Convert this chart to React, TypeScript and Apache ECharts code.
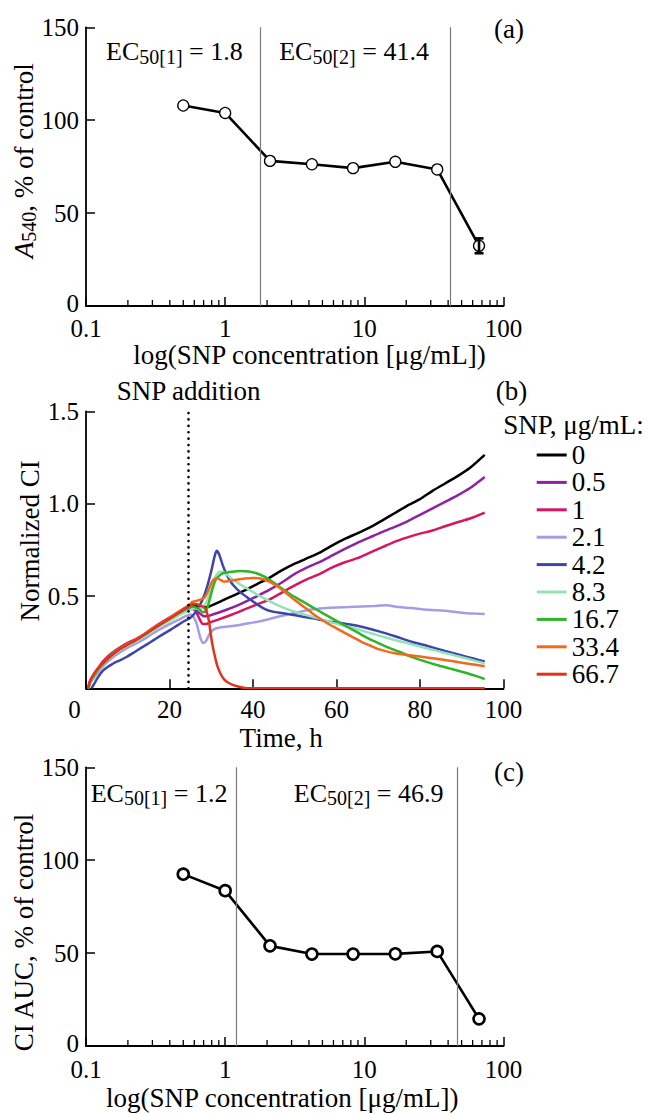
import React, { useEffect, useRef } from 'react';
import * as echarts from 'echarts';

const FONT = '"Liberation Serif", "Times New Roman", serif';

// Panels (a) and (c): concentration series
const CONC = [0.5, 1, 2.1, 4.2, 8.3, 16.7, 33.4, 66.7];
const A540 = [107.9, 103.9, 78.1, 76.3, 74.2, 77.6, 73.5, 32.4];
const A540_ERR = [0, 0, 0, 0, 0, 0, 0, 4];
const CI_AUC = [92.5, 83.6, 53.9, 49.5, 49.5, 49.6, 50.9, 14.6];
const EC50_A = [1.8, 41.4];
const EC50_C = [1.2, 46.9];
const LOG_MAJOR = [0.1, 100];
const LOG_MINOR = [0.2, 0.3, 0.4, 0.5, 0.6, 0.7, 0.8, 0.9, 2, 3, 4, 5, 6, 7, 8, 9, 20, 30, 40, 50, 60, 70, 80, 90];
const PCT_TICKS = [0, 150, 50];

// Panel (b): normalized cell index over time
const SNP_ADDITION_T = 24.5;
const TIME_TICKS = [0, 100, 20];
const CI_TICKS = [0, 1.5, 0.5];
const CI_NAMES = ['0', '0.5', '1', '2.1', '4.2', '8.3', '16.7', '33.4', '66.7'];
const CI_COLORS = ['#000000', '#8e22a3', '#d7165f', '#a49de3', '#3c46aa', '#93e3b6', '#2fb52a', '#f2691c', '#e3321c'];

const CI_0 = [[0.5, 0], [1, 0.03], [2, 0.07], [3, 0.105], [4, 0.135], [5, 0.158], [6, 0.178], [7, 0.196], [8, 0.21], [10, 0.237], [12, 0.26], [14, 0.29], [16, 0.32], [18, 0.35], [20, 0.375], [22, 0.405], [24, 0.43], [25, 0.443], [26, 0.448], [27, 0.445], [28, 0.44], [29, 0.44], [30, 0.448], [32, 0.468], [35, 0.5], [38, 0.53], [41, 0.565], [44, 0.6], [47, 0.64], [50, 0.675], [53, 0.705], [56, 0.735], [59, 0.775], [62, 0.81], [65, 0.84], [68, 0.872], [71, 0.91], [74, 0.95], [77, 0.99], [80, 1.025], [83, 1.07], [86, 1.11], [89, 1.15], [92, 1.195], [95.5, 1.265]];
const CI_05 = [[0.5, 0], [1, 0.032], [2, 0.07], [3, 0.103], [4, 0.133], [5, 0.157], [6, 0.177], [7, 0.195], [8, 0.21], [10, 0.236], [12, 0.258], [14, 0.287], [16, 0.318], [18, 0.347], [20, 0.372], [22, 0.4], [24, 0.425], [25, 0.432], [26, 0.425], [27, 0.41], [28, 0.393], [29, 0.39], [30, 0.397], [32, 0.412], [35, 0.437], [38, 0.467], [41, 0.5], [44, 0.535], [47, 0.575], [50, 0.62], [53, 0.655], [56, 0.685], [59, 0.72], [62, 0.755], [65, 0.788], [68, 0.818], [71, 0.848], [74, 0.875], [77, 0.905], [80, 0.94], [83, 0.975], [86, 1.01], [89, 1.045], [92, 1.085], [95.5, 1.145]];
const CI_1 = [[0.5, 0], [1, 0.04], [2, 0.08], [3, 0.113], [4, 0.143], [5, 0.167], [6, 0.187], [7, 0.205], [8, 0.22], [10, 0.246], [12, 0.268], [14, 0.294], [16, 0.326], [18, 0.356], [20, 0.383], [22, 0.412], [24, 0.438], [25, 0.445], [26, 0.432], [27, 0.385], [28, 0.348], [29, 0.35], [30, 0.36], [32, 0.375], [35, 0.4], [38, 0.428], [41, 0.455], [44, 0.482], [47, 0.52], [50, 0.558], [53, 0.592], [56, 0.62], [59, 0.655], [62, 0.683], [65, 0.705], [68, 0.735], [71, 0.765], [74, 0.795], [77, 0.818], [80, 0.838], [83, 0.855], [86, 0.878], [89, 0.9], [92, 0.92], [95.5, 0.952]];
const CI_21 = [[0.5, 0], [1, 0.028], [2, 0.06], [3, 0.09], [4, 0.117], [5, 0.14], [6, 0.16], [7, 0.178], [8, 0.193], [10, 0.22], [12, 0.243], [14, 0.268], [16, 0.297], [18, 0.323], [20, 0.348], [22, 0.37], [24, 0.392], [25, 0.4], [25.7, 0.39], [26.5, 0.35], [27.3, 0.28], [28, 0.245], [28.7, 0.255], [29.5, 0.29], [30.5, 0.318], [32, 0.33], [34, 0.335], [36, 0.34], [39, 0.352], [42, 0.365], [45, 0.382], [48, 0.398], [51, 0.413], [54, 0.427], [57, 0.434], [60, 0.438], [63, 0.44], [66, 0.443], [69, 0.446], [72, 0.45], [75, 0.44], [78, 0.435], [81, 0.427], [84, 0.423], [87, 0.418], [90, 0.41], [93, 0.405], [95.5, 0.402]];
const CI_42 = [[1.3, 0], [2, 0.025], [2.6, 0.05], [3.4, 0.078], [4.2, 0.099], [5, 0.113], [6, 0.127], [7, 0.14], [8, 0.15], [9.8, 0.171], [11.4, 0.193], [13, 0.216], [14.6, 0.238], [16.2, 0.261], [17.8, 0.284], [19.4, 0.306], [21, 0.328], [22.6, 0.351], [24, 0.37], [25, 0.382], [26, 0.405], [27, 0.44], [28, 0.485], [29, 0.55], [30, 0.635], [30.8, 0.715], [31.3, 0.745], [31.9, 0.725], [32.7, 0.67], [33.5, 0.625], [34.5, 0.583], [35.5, 0.553], [37, 0.52], [39, 0.487], [41, 0.455], [43, 0.428], [45, 0.414], [47, 0.408], [49, 0.4], [52, 0.388], [55, 0.377], [58, 0.362], [62, 0.35], [66, 0.334], [70, 0.31], [74, 0.282], [78, 0.252], [82, 0.228], [86, 0.202], [90, 0.178], [93, 0.16], [95.5, 0.145]];
const CI_83 = [[0.5, 0], [1, 0.033], [2, 0.068], [3, 0.1], [4, 0.128], [5, 0.152], [6, 0.172], [7, 0.19], [8, 0.205], [10, 0.232], [12, 0.255], [14, 0.283], [16, 0.312], [18, 0.34], [20, 0.365], [22, 0.392], [24, 0.415], [25, 0.425], [26, 0.432], [27, 0.43], [28, 0.44], [29, 0.475], [30, 0.545], [31, 0.605], [32, 0.632], [33, 0.63], [34, 0.612], [35, 0.592], [37, 0.562], [39, 0.535], [41, 0.508], [43, 0.483], [45, 0.46], [47, 0.44], [49, 0.422], [52, 0.402], [56, 0.376], [60, 0.35], [64, 0.327], [68, 0.3], [72, 0.274], [76, 0.25], [80, 0.226], [84, 0.203], [88, 0.18], [92, 0.156], [95.5, 0.135]];
const CI_167 = [[0.5, 0], [1, 0.035], [2, 0.072], [3, 0.105], [4, 0.135], [5, 0.16], [6, 0.18], [7, 0.198], [8, 0.213], [10, 0.24], [12, 0.262], [14, 0.29], [16, 0.32], [18, 0.35], [20, 0.376], [22, 0.404], [24, 0.432], [25, 0.443], [26, 0.44], [27, 0.43], [28, 0.412], [28.8, 0.42], [29.5, 0.47], [30.3, 0.54], [31, 0.585], [32, 0.612], [33, 0.625], [35, 0.632], [37, 0.635], [39, 0.633], [41, 0.622], [43, 0.602], [45, 0.572], [47, 0.54], [49, 0.508], [51, 0.482], [54, 0.443], [57, 0.403], [60, 0.365], [63, 0.328], [66, 0.29], [69, 0.255], [72, 0.225], [75, 0.198], [78, 0.17], [81, 0.147], [84, 0.126], [87, 0.108], [90, 0.09], [93, 0.07], [95.5, 0.05]];
const CI_334 = [[0.5, 0], [1, 0.04], [1.8, 0.072], [2.6, 0.098], [3.4, 0.117], [4.6, 0.145], [5.8, 0.171], [7, 0.195], [8.2, 0.216], [10.6, 0.247], [13, 0.279], [15.4, 0.315], [17.8, 0.348], [20.2, 0.384], [22.6, 0.42], [24.6, 0.45], [25.5, 0.468], [26.5, 0.474], [27.5, 0.482], [28.3, 0.49], [29, 0.515], [29.8, 0.56], [30.6, 0.59], [31.3, 0.597], [32.2, 0.588], [33, 0.578], [34, 0.58], [36, 0.588], [38, 0.595], [40, 0.598], [42, 0.594], [44, 0.577], [46, 0.55], [48, 0.515], [50, 0.478], [52, 0.445], [54, 0.41], [56, 0.378], [58, 0.35], [60, 0.325], [62, 0.3], [64, 0.276], [66, 0.252], [68, 0.232], [70, 0.212], [72, 0.2], [74, 0.19], [77, 0.18], [80, 0.172], [84, 0.16], [88, 0.146], [92, 0.132], [95.5, 0.12]];
const CI_667 = [[0.5, 0], [1, 0.042], [1.8, 0.074], [2.6, 0.1], [3.4, 0.12], [4.6, 0.148], [5.8, 0.172], [7, 0.194], [8.2, 0.214], [10.6, 0.244], [13, 0.276], [15.4, 0.312], [17.8, 0.346], [20.2, 0.38], [22.6, 0.415], [24.6, 0.445], [25.5, 0.455], [26.5, 0.455], [27.5, 0.447], [28.2, 0.441], [28.8, 0.42], [29.4, 0.37], [29.9, 0.29], [30.3, 0.235], [30.8, 0.18], [31.4, 0.125], [32.2, 0.08], [33, 0.05], [33.8, 0.034], [35, 0.02], [36.2, 0.011], [37.4, 0.004], [38.6, 0], [95.5, 0]];
const CI_DATA = [CI_0, CI_05, CI_1, CI_21, CI_42, CI_83, CI_167, CI_334, CI_667];

const GRIDS = [
  { left: 86, top: 27.3, width: 417.5, height: 278.7 },
  { left: 86, top: 411.5, width: 417.5, height: 276.8 },
  { left: 86, top: 767.3, width: 417.5, height: 278.7 },
];

const axisLine = { show: true, lineStyle: { color: '#000', width: 1.8 } };
const axisTick = { show: true, inside: true, length: 9, lineStyle: { color: '#000', width: 1.5 } };
const labelBase = { color: '#000', fontFamily: FONT, fontSize: 25, lineHeight: 18 };

const rich = {
  m: { fontSize: 26, fontFamily: FONT, lineHeight: 30, verticalAlign: 'middle', fill: '#000' },
  s: { fontSize: 20, fontFamily: FONT, lineHeight: 14, verticalAlign: 'bottom', fill: '#000' },
  tm: { fontSize: 27, fontFamily: FONT, lineHeight: 30, verticalAlign: 'middle', fill: '#000' },
  ti: { fontSize: 27, fontFamily: FONT, fontStyle: 'italic', lineHeight: 30, verticalAlign: 'middle', fill: '#000' },
  ts: { fontSize: 20, fontFamily: FONT, lineHeight: 14, verticalAlign: 'bottom', fill: '#000' },
};

function txt(x: number, y: number, text: string, size = 27, align = 'left', rotation = 0, useRich = false) {
  return {
    type: 'text',
    x,
    y,
    rotation,
    silent: true,
    style: {
      text,
      fill: '#000',
      font: `${size}px ${FONT}`,
      lineHeight: useRich ? undefined : 20,
      align,
      verticalAlign: 'middle',
      textAlign: align,
      textVerticalAlign: 'middle',
      rich: useRich ? rich : undefined,
    },
  };
}

function ecText(idx: number, val: number) {
  return `{m|EC}{s|50[${idx}]}{m| = ${val}}`;
}

function minorTickSeries(axisIdx: number) {
  return {
    type: 'custom',
    name: 'minor' + axisIdx,
    xAxisIndex: axisIdx,
    yAxisIndex: axisIdx,
    silent: true,
    z: 5,
    data: LOG_MINOR.map((v) => [v, 0]),
    renderItem: (params: any, api: any) => {
      const p = api.coord([api.value(0), api.value(1)]);
      return {
        type: 'line',
        shape: { x1: p[0], y1: p[1], x2: p[0], y2: p[1] - 6 },
        style: { stroke: '#000', lineWidth: 1.3 },
      };
    },
  };
}

function ecLines(vals: number[]) {
  return {
    symbol: ['none', 'none'],
    silent: true,
    label: { show: false },
    emphasis: { disabled: true },
    lineStyle: { color: '#7a7a7a', width: 1.2, type: 'solid' },
    data: vals.map((v) => ({ xAxis: v })),
  };
}

function logX(gridIndex: number) {
  return {
    type: 'log',
    logBase: 10,
    gridIndex,
    min: LOG_MAJOR[0],
    max: LOG_MAJOR[1],
    axisLine,
    axisTick,
    splitLine: { show: false },
    axisLabel: { ...labelBase, margin: gridIndex === 0 ? 13 : 14 },
  };
}

function pctY(gridIndex: number) {
  return {
    type: 'value',
    gridIndex,
    min: PCT_TICKS[0],
    max: PCT_TICKS[1],
    interval: PCT_TICKS[2],
    axisLine,
    axisTick,
    splitLine: { show: false },
    axisLabel: {
      ...labelBase,
      margin: 7,
      formatter: (v: number) => (v === 0 ? '{z|0}' : String(v)),
      rich: { z: { fontSize: 25, fontFamily: FONT, color: '#000', lineHeight: 18, padding: [0, 0, 6, 0] } },
    },
  };
}

export default function App() {
  const ref = useRef<HTMLDivElement>(null);
  useEffect(() => {
    document.body.style.margin = '0';
    const chart = echarts.init(ref.current as HTMLDivElement, null, { renderer: 'svg' });
    const errData = CONC.map((c, i) => [c, A540[i] - A540_ERR[i], A540[i] + A540_ERR[i]]).filter((d, i) => A540_ERR[i] > 0);

    const ciSeries = CI_NAMES.map((name, i) => ({
      type: 'line',
      name,
      xAxisIndex: 1,
      yAxisIndex: 1,
      data: CI_DATA[i],
      showSymbol: false,
      symbol: 'none',
      smooth: 0.2,
      color: CI_COLORS[i],
      lineStyle: { color: CI_COLORS[i], width: 2.5 },
      itemStyle: { color: CI_COLORS[i] },
      z: 3,
    }));
    // SNP addition marker
    (ciSeries[0] as any).markLine = {
      symbol: ['none', 'none'],
      silent: true,
      label: { show: false },
      emphasis: { disabled: true },
      lineStyle: { color: '#000', width: 2.6, type: [0.1, 6.3], cap: 'round' },
      data: [{ xAxis: SNP_ADDITION_T }],
    };

    const option: any = {
      animation: false,
      backgroundColor: '#fff',
      textStyle: { fontFamily: FONT },
      grid: GRIDS.map((g) => ({ ...g, outerBoundsMode: 'none', containLabel: false })),
      xAxis: [
        logX(0),
        {
          type: 'value',
          gridIndex: 1,
          min: TIME_TICKS[0],
          max: TIME_TICKS[1],
          interval: TIME_TICKS[2],
          axisLine,
          axisTick,
          splitLine: { show: false },
          axisLabel: {
            ...labelBase,
            margin: 12,
            formatter: (v: number) => (v === 0 ? '{z|0}' : String(v)),
            rich: { z: { fontSize: 25, fontFamily: FONT, color: '#000', lineHeight: 18, padding: [0, 23, 0, 0] } },
          },
        },
        logX(2),
      ],
      yAxis: [
        pctY(0),
        {
          type: 'value',
          gridIndex: 1,
          min: CI_TICKS[0],
          max: CI_TICKS[1],
          interval: CI_TICKS[2],
          axisLine,
          axisTick,
          splitLine: { show: false },
          axisLabel: { ...labelBase, margin: 7, showMinLabel: false, formatter: (v: number) => v.toFixed(1) },
        },
        pctY(2),
      ],
      legend: {
        data: CI_NAMES,
        orient: 'vertical',
        left: 536.7,
        top: 441.3,
        padding: 0,
        itemGap: 0,
        itemWidth: 30,
        itemHeight: 3,
        icon: 'rect',
        selectedMode: false,
        textStyle: { fontSize: 27, fontFamily: FONT, color: '#000', lineHeight: 27.4 },
      },
      series: [
        minorTickSeries(0),
        {
          type: 'line',
          name: 'A540',
          xAxisIndex: 0,
          yAxisIndex: 0,
          data: CONC.map((c, i) => [c, A540[i]]),
          symbol: 'circle',
          symbolSize: 11,
          lineStyle: { color: '#000', width: 2.6 },
          itemStyle: { color: '#fff', borderColor: '#000', borderWidth: 1.3 },
          z: 4,
          markLine: ecLines(EC50_A),
        },
        {
          type: 'custom',
          name: 'A540 err',
          xAxisIndex: 0,
          yAxisIndex: 0,
          silent: true,
          z: 6,
          data: errData,
          encode: { x: 0, y: [1, 2] },
          renderItem: (params: any, api: any) => {
            const lo = api.coord([api.value(0), api.value(1)]);
            const hi = api.coord([api.value(0), api.value(2)]);
            const st = { stroke: '#000', lineWidth: 2.6 };
            return {
              type: 'group',
              children: [
                { type: 'line', shape: { x1: lo[0], y1: lo[1], x2: hi[0], y2: hi[1] }, style: st },
                { type: 'line', shape: { x1: lo[0] - 4.5, y1: lo[1], x2: lo[0] + 4.5, y2: lo[1] }, style: st },
                { type: 'line', shape: { x1: hi[0] - 4.5, y1: hi[1], x2: hi[0] + 4.5, y2: hi[1] }, style: st },
              ],
            };
          },
        },
        ...ciSeries,
        minorTickSeries(2),
        {
          type: 'line',
          name: 'CI AUC',
          xAxisIndex: 2,
          yAxisIndex: 2,
          data: CONC.map((c, i) => [c, CI_AUC[i]]),
          symbol: 'circle',
          symbolSize: 11,
          lineStyle: { color: '#000', width: 2.6 },
          itemStyle: { color: '#fff', borderColor: '#000', borderWidth: 2.6 },
          z: 4,
          markLine: ecLines(EC50_C),
        },
      ],
      graphic: [
        // panel (a)
        txt(106, 51.7, ecText(1, EC50_A[0]), 26, 'left', 0, true),
        txt(279.2, 51.7, ecText(2, EC50_A[1]), 26, 'left', 0, true),
        txt(494, 29, '(a)'),
        txt(24.2, 160.8, '{ti|A}{ts|540}{tm|, % of control}', 27, 'center', Math.PI / 2, true),
        txt(133.3, 354.5, 'log(SNP concentration [μg/mL])'),
        // panel (b)
        txt(116.7, 390.9, 'SNP addition'),
        txt(495.8, 390.8, '(b)'),
        txt(503.3, 425.2, 'SNP, μg/mL:'),
        txt(30, 540.8, 'Normalized CI', 27, 'center', Math.PI / 2),
        txt(239.6, 737.8, 'Time, h'),
        // panel (c)
        txt(90.7, 793.3, ecText(1, EC50_C[0]), 26, 'left', 0, true),
        txt(293.8, 793.3, ecText(2, EC50_C[1]), 26, 'left', 0, true),
        txt(494, 771.7, '(c)'),
        txt(24.2, 932.5, 'CI AUC, % of control', 27, 'center', Math.PI / 2),
        txt(106, 1098, 'log(SNP concentration [μg/mL])'),
      ],
    };
    chart.setOption(option);
    return () => chart.dispose();
  }, []);
  return <div ref={ref} style={{ width: 653, height: 1113 }} />;
}
